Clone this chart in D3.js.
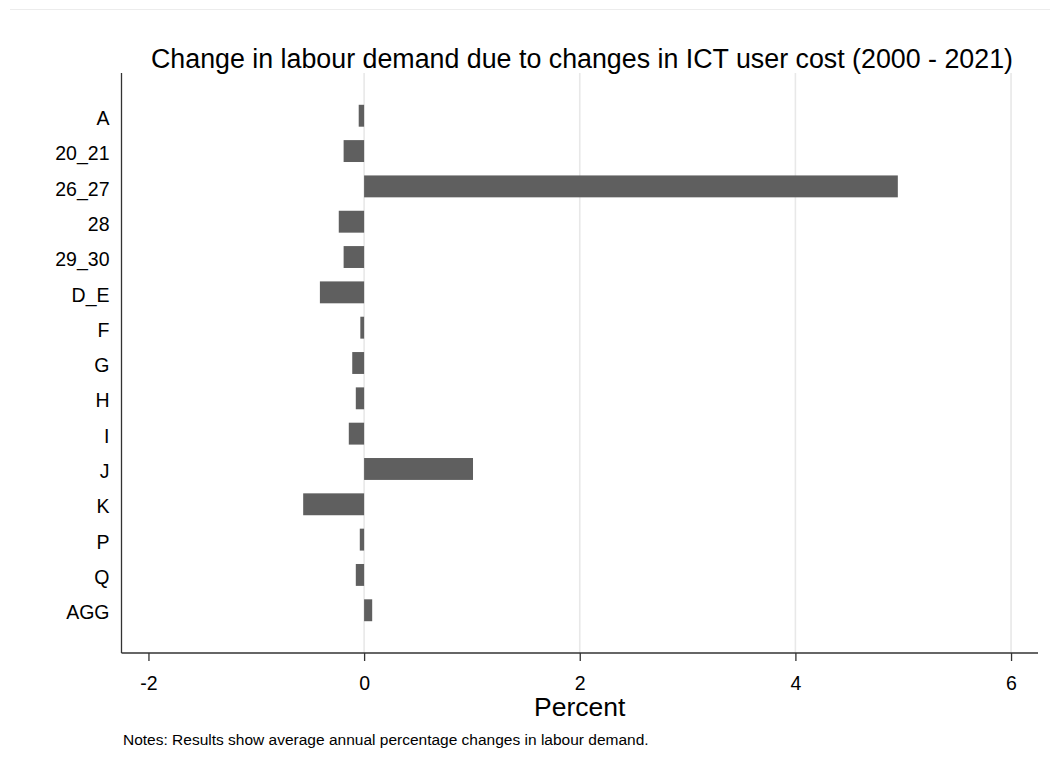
<!DOCTYPE html>
<html>
<head>
<meta charset="utf-8">
<script src="https://cdn.jsdelivr.net/npm/d3@7"></script>
<style>
html,body{margin:0;padding:0;background:#fff;}
svg{display:block;font-family:"Liberation Sans",Arial,sans-serif;}
</style>
</head>
<body>
<svg id="chart" width="1050" height="772"></svg>
<script>
const categories = ["A","20_21","26_27","28","29_30","D_E","F","G","H","I","J","K","P","Q","AGG"];
const values = [-0.05,-0.19,4.95,-0.235,-0.19,-0.41,-0.035,-0.11,-0.077,-0.142,1.01,-0.565,-0.04,-0.077,0.075];
const xTicks = [-2,0,2,4,6];
const xTickLabels = ["-2","0","2","4","6"];
const gridTicks = [0,2,4,6];
const titleText = "Change in labour demand due to changes in ICT user cost (2000 - 2021)";
const xTitle = "Percent";
const noteText = "Notes: Results show average annual percentage changes in labour demand.";

(function(){
const svg = d3.select("#chart");
const pLeft = 121.5, pRight = 1038, pTop = 73, pBottom = 653;
const FONT = "Liberation Sans, Arial, sans-serif";

const x = d3.scaleLinear().domain([-2.25, 6.25]).range([pLeft, pRight]);
const y = d3.scaleBand().domain(categories).range([pTop, pBottom]).paddingInner(0.38).paddingOuter(0.9);

// faint frame line at top
svg.append("line").attr("x1",10).attr("x2",1050).attr("y1",9.5).attr("y2",9.5)
  .attr("stroke","#ececec").attr("stroke-width",1);

// gridlines
svg.append("g").selectAll("line").data(gridTicks).join("line")
  .attr("x1",d=>x(d)).attr("x2",d=>x(d)).attr("y1",pTop).attr("y2",pBottom)
  .attr("stroke","#e8e8e8").attr("stroke-width",1.6);

// bars
svg.append("g").selectAll("rect").data(categories).join("rect")
  .attr("x",(d,i)=>Math.min(x(0),x(values[i])))
  .attr("width",(d,i)=>Math.abs(x(values[i])-x(0)))
  .attr("y",d=>y(d))
  .attr("height",y.bandwidth())
  .attr("fill","#5f5f5f");

// x axis
const xAxis = d3.axisBottom(x).tickValues(xTicks).tickSize(8).tickPadding(15)
  .tickFormat((d,i)=>xTickLabels[i]);
const gx = svg.append("g").attr("transform",`translate(0,${pBottom})`).call(xAxis);
gx.select(".domain").attr("stroke","#333").attr("stroke-width",1.3).attr("d",`M${pLeft},0H${pRight}`);
gx.selectAll(".tick line").attr("stroke","#333").attr("stroke-width",1.3);
gx.selectAll(".tick text").attr("fill","#000").style("font-size","19.5px").style("font-family",FONT);

// y axis
const yAxis = d3.axisLeft(y).tickSize(0).tickPadding(12);
const gy = svg.append("g").attr("transform",`translate(${pLeft},0)`).call(yAxis);
gy.select(".domain").attr("stroke","#333").attr("stroke-width",1.3).attr("d",`M0,${pTop}V${pBottom}`);
gy.selectAll(".tick text").attr("fill","#000").attr("dy","0.47em").style("font-size","19.5px").style("font-family",FONT);

// title
svg.append("text").attr("x",582).attr("y",68).attr("text-anchor","middle")
  .style("font-size","26.8px").style("font-family",FONT).attr("fill","#000").text(titleText);

// x title
svg.append("text").attr("x",(pLeft+pRight)/2).attr("y",716).attr("text-anchor","middle")
  .style("font-size","26.5px").style("font-family",FONT).attr("fill","#000").text(xTitle);

// notes
svg.append("text").attr("x",123).attr("y",745)
  .style("font-size","15.5px").style("font-family",FONT).attr("fill","#000").text(noteText);
})();
</script>
</body>
</html>
